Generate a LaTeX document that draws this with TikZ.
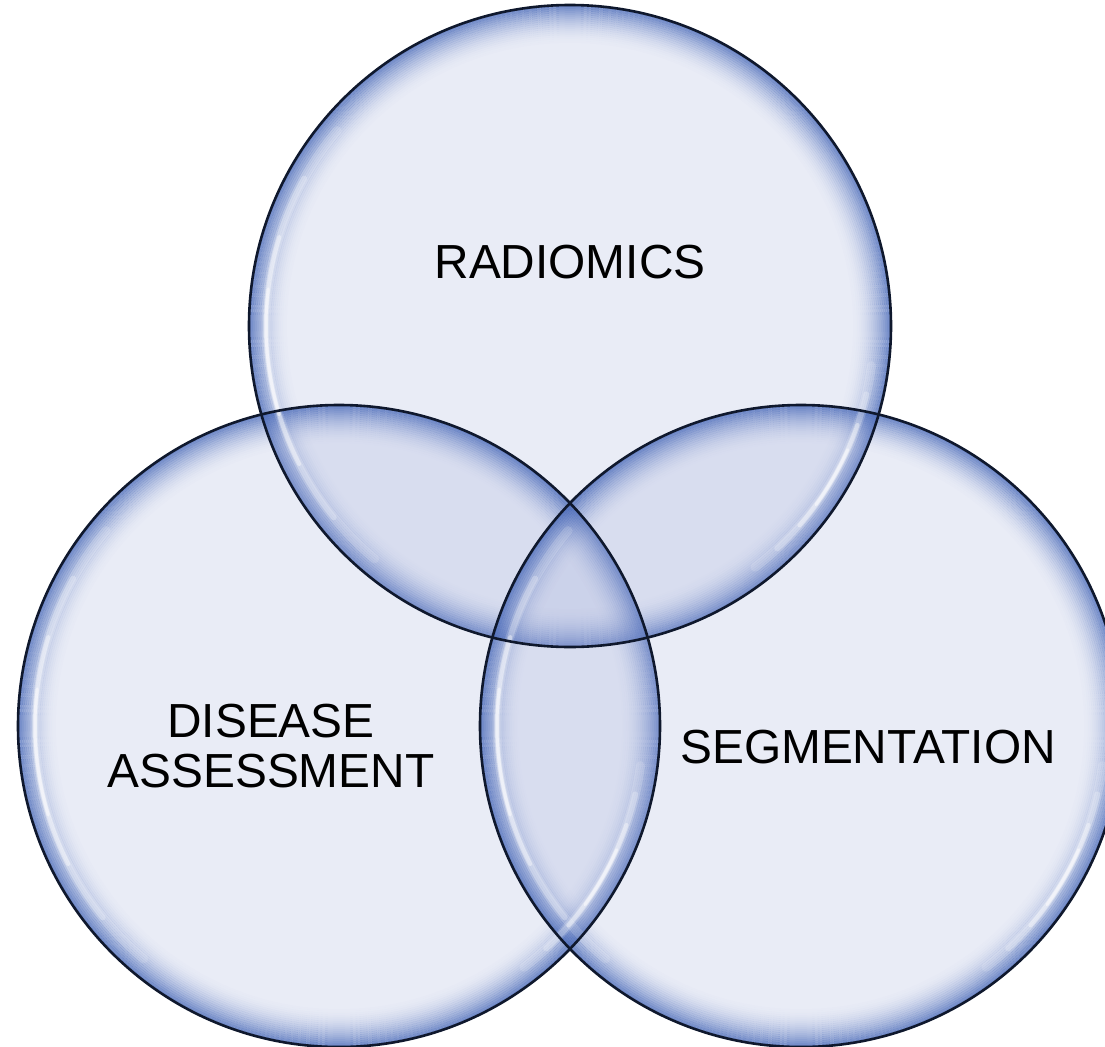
\documentclass[tikz,border=0pt]{standalone}
\usepackage{fontspec}
\setmainfont{Liberation Sans}
\begin{document}
\begin{tikzpicture}[x=1bp,y=1bp]
\definecolor{vennfill}{RGB}{160,172,216}
\definecolor{vennband}{RGB}{66,100,182}
\definecolor{vennline}{RGB}{15,24,45}
\def\R{321}
\tikzset{
  label text/.style={inner sep=0pt, text=black, align=center},
}
\useasboundingbox (0,0) rectangle (1105,-1047);
\clip (0,0) rectangle (1105,-1047);

% circle centres
\coordinate (cR) at (570,-326);
\coordinate (cD) at (339,-726);
\coordinate (cS) at (801,-726);

% translucent bodies with a soft inner rim
\foreach \c in {cR,cD,cS}{
  \fill[vennfill, fill opacity=0.23] (\c) circle[radius=\R];
  \foreach \i in {0,...,19}{
    \pgfmathsetmacro\op{0.72*(1-\i/20)^2}
    \pgfmathsetmacro\rr{\R-1-2*\i}
    \draw[vennband, draw opacity=\op, line width=2.1bp] (\c) circle[radius=\rr];
  }
}

% glossy highlights along the rim
\foreach \c in {cR,cD,cS}{
  \pgfmathsetmacro\rh{\R-17}
  \foreach \half/\w/\o in {45/9/0.14, 34/6/0.25, 22/4/0.4, 12/3/0.5}{
    \pgfmathsetmacro\sa{185-\half}
    \pgfmathsetmacro\ea{185+\half}
    \draw[white, draw opacity=\o, line width=\w bp, line cap=round]
      (\c) ++(\sa:\rh) arc[start angle=\sa, end angle=\ea, radius=\rh];
    \pgfmathsetmacro\sb{-30-\half/2}
    \pgfmathsetmacro\eb{-30+\half/2}
    \draw[white, draw opacity=\o, line width=\w bp, line cap=round]
      (\c) ++(\sb:\rh) arc[start angle=\sb, end angle=\eb, radius=\rh];
  }
}

% outlines
\foreach \c in {cR,cD,cS}{
  \draw[vennline, line width=2.6bp] (\c) circle[radius=\R];
}

% labels
\node[label text, font=\fontsize{48}{51}\selectfont] (radiomics) at (570,-262) {RADIOMICS};
\node[label text, font=\fontsize{48}{51}\selectfont] (disease) at (271,-746) {DISEASE\\ASSESSMENT};
\node[label text, font=\fontsize{48}{51}\selectfont] (segmentation) at (868,-747) {SEGMENTATION};
\end{tikzpicture}
\end{document}
